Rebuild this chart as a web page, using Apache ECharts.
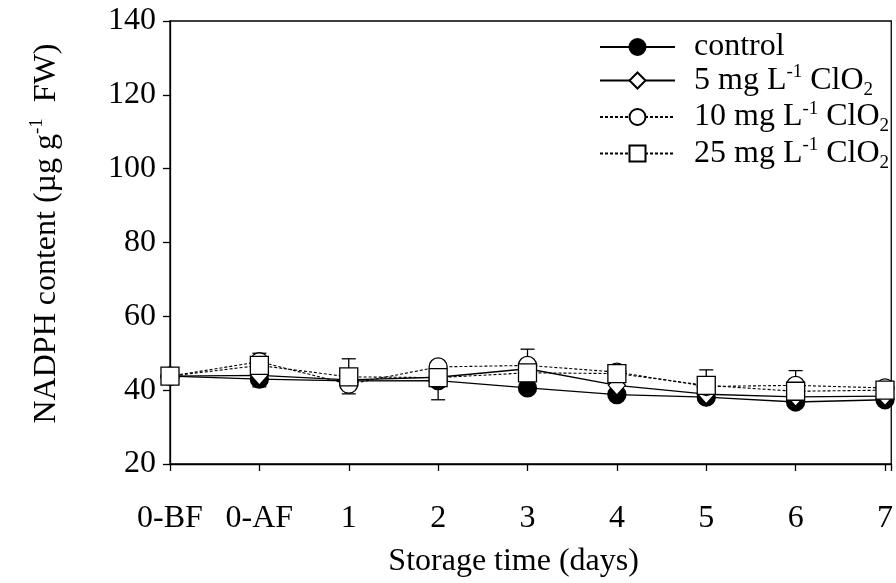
<!DOCTYPE html>
<html>
<head>
<meta charset="utf-8">
<script src="https://cdn.jsdelivr.net/npm/echarts@6/dist/echarts.min.js"></script>
<style>
  html, body { margin: 0; padding: 0; background: #fff; }
  #chart { width: 896px; height: 583px; }
</style>
</head>
<body>
<div id="chart"></div>
<script>
// Storage days (0-BF = before fumigation, 0-AF = after fumigation)
const categories = ['0-BF', '0-AF', '1', '2', '3', '4', '5', '6', '7'];

// NADPH content (µg g-1 FW)
const control = [43.8, 43.0, 42.5, 42.6, 40.6, 38.8, 38.1, 36.8, 37.4];
const clo2_5  = [43.8, 44.0, 42.8, 43.5, 45.8, 41.3, 38.9, 38.2, 38.4];
const clo2_10 = [43.8, 47.7, 41.6, 46.3, 46.7, 44.9, 41.0, 41.3, 40.6];
const clo2_25 = [43.8, 46.7, 43.6, 43.4, 44.7, 44.5, 41.3, 39.7, 40.0];

// Standard error bars (0 = not drawn)
const controlErrUp   = [0, 0, 0, 0, 0, 0, 0, 0, 0];
const controlErrDown = [0, 2.1, 0, 5.2, 0, 0, 0, 0, 0];
const clo2_10ErrUp   = [0, 2.3, 0, 0, 4.4, 0, 0, 4.0, 0];
const clo2_10ErrDown = [0, 0, 2.6, 0, 0, 0, 0, 0, 0];
const clo2_25ErrUp   = [0, 0, 4.9, 0, 0, 0, 4.2, 0, 0];
const clo2_25ErrDown = [0, 0, 0, 0, 0, 0, 0, 2.6, 0];

const yTicks = [20, 40, 60, 80, 100, 120, 140];

const FONT = 'Liberation Serif';
const FS = 32;

const toPoints = vals => vals.map((v, i) => [i, v]);
const toErr = (vals, up, down) =>
  vals.map((v, i) => [i, v, v + up[i], v - down[i], up[i], down[i]]);

function errorSeries(vals, up, down) {
  return {
    type: 'custom',
    silent: true,
    data: toErr(vals, up, down),
    renderItem: function (params, api) {
      const x = api.value(0);
      const mid = api.coord([x, api.value(1)]);
      const hi = api.coord([x, api.value(2)]);
      const lo = api.coord([x, api.value(3)]);
      const half = 7;
      const style = { stroke: '#000', lineWidth: 1.3 };
      const children = [];
      if (api.value(4) > 0) {
        children.push({ type: 'line', shape: { x1: mid[0], y1: mid[1], x2: hi[0], y2: hi[1] }, style });
        children.push({ type: 'line', shape: { x1: hi[0] - half, y1: hi[1], x2: hi[0] + half, y2: hi[1] }, style });
      }
      if (api.value(5) > 0) {
        children.push({ type: 'line', shape: { x1: mid[0], y1: mid[1], x2: lo[0], y2: lo[1] }, style });
        children.push({ type: 'line', shape: { x1: lo[0] - half, y1: lo[1], x2: lo[0] + half, y2: lo[1] }, style });
      }
      return { type: 'group', children };
    }
  };
}

function lineSeries(name, vals, symbol, fill, dashed) {
  return {
    name: name,
    type: 'line',
    data: toPoints(vals),
    symbol: symbol,
    symbolSize: symbol === 'diamond' ? [17, 19] : 18,
    showAllSymbol: true,
    lineStyle: { color: '#000', width: dashed ? 1.1 : 1.3, type: dashed ? [3, 2] : 'solid' },
    itemStyle: { color: fill, borderColor: '#000', borderWidth: 1.3, opacity: 1 },
    emphasis: { disabled: true },
    animation: false
  };
}

const names = ['control', '5 mg', '10 mg', '25 mg'];
const legendLabels = {
  'control': '{t|control}',
  '5 mg': '{t|5 mg L}{sup|-1}{t| ClO}{sub|2}',
  '10 mg': '{t|10 mg L}{sup|-1}{t| ClO}{sub|2}',
  '25 mg': '{t|25 mg L}{sup|-1}{t| ClO}{sub|2}'
};

const chart = echarts.init(document.getElementById('chart'), null, { renderer: 'canvas' });

chart.setOption({
  animation: false,
  backgroundColor: '#fff',
  grid: {
    left: 170, top: 21, right: -3, bottom: 106,
    show: true, borderColor: '#000', borderWidth: 1.3, backgroundColor: 'transparent'
  },
  legend: {
    orient: 'vertical',
    left: 594,
    top: 26,
    itemWidth: 75,
    itemHeight: 20,
    itemGap: 0,
    data: names,
    selectedMode: false,
    formatter: n => legendLabels[n],
    textStyle: {
      padding: [0, 0, 0, 14],
      rich: {
        t: { fontFamily: FONT, fontSize: FS, color: '#000', lineHeight: 38, verticalAlign: 'middle' },
        sup: { fontFamily: FONT, fontSize: 19, color: '#000', lineHeight: 19, verticalAlign: 'middle', padding: [0, 0, 16, 0] },
        sub: { fontFamily: FONT, fontSize: 19, color: '#000', lineHeight: 10, verticalAlign: 'bottom' }
      }
    }
  },
  xAxis: {
    type: 'value',
    min: 0,
    max: 8.07,
    interval: 1,
    name: 'Storage time (days)',
    nameLocation: 'middle',
    nameGap: 82,
    nameTextStyle: { fontFamily: FONT, fontSize: FS, color: '#000', padding: [0, 34, 0, 0] },
    splitLine: { show: false },
    axisLine: { show: true, lineStyle: { color: '#000', width: 1.3 } },
    axisTick: { show: true, length: 7, inside: false, lineStyle: { color: '#000', width: 1.3 } },
    axisLabel: {
      margin: 39,
      fontFamily: FONT, fontSize: FS, color: '#000',
      formatter: v => (Number.isInteger(v) && categories[v] !== undefined) ? categories[v] : ''
    }
  },
  yAxis: {
    type: 'value',
    min: yTicks[0],
    max: yTicks[yTicks.length - 1],
    interval: 20,
    name: '{t|NADPH content (µg g}{sup|-1}{t|  FW)}',
    nameLocation: 'middle',
    nameGap: 104,
    nameTextStyle: {
      padding: [0, 0, 0, 18],
      rich: {
        t: { fontFamily: FONT, fontSize: FS, color: '#000', lineHeight: 38, verticalAlign: 'middle' },
        sup: { fontFamily: FONT, fontSize: 19, color: '#000', lineHeight: 2, verticalAlign: 'top' }
      }
    },
    splitLine: { show: false },
    axisLine: { show: true, lineStyle: { color: '#000', width: 1.3 } },
    axisTick: { show: true, length: 7, inside: false, lineStyle: { color: '#000', width: 1.3 } },
    axisLabel: { margin: 14, fontFamily: FONT, fontSize: FS, color: '#000' }
  },
  series: [
    errorSeries(control, controlErrUp, controlErrDown),
    lineSeries('control', control, 'circle', '#000', false),
    lineSeries('5 mg', clo2_5, 'diamond', '#fff', false),
    errorSeries(clo2_10, clo2_10ErrUp, clo2_10ErrDown),
    lineSeries('10 mg', clo2_10, 'circle', '#fff', true),
    errorSeries(clo2_25, clo2_25ErrUp, clo2_25ErrDown),
    lineSeries('25 mg', clo2_25, 'rect', '#fff', true)
  ]
});
</script>
</body>
</html>
